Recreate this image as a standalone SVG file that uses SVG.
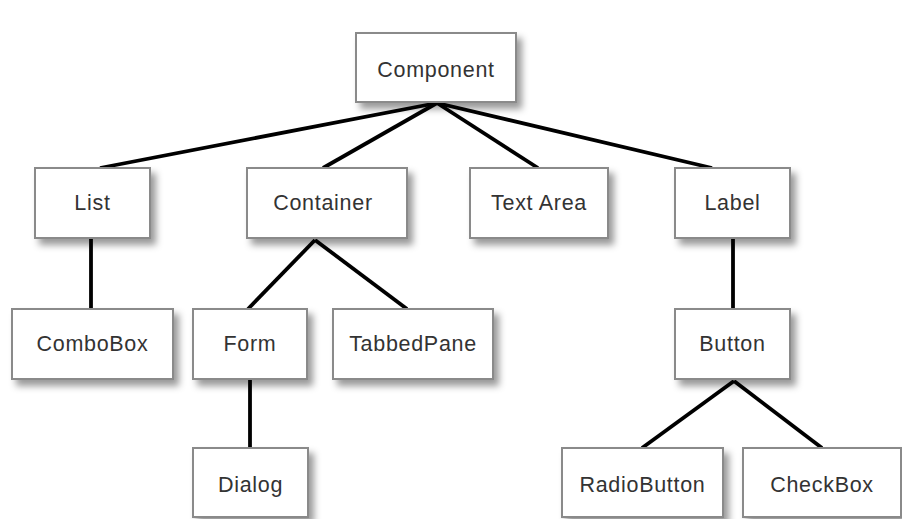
<svg xmlns="http://www.w3.org/2000/svg" width="902" height="519" viewBox="0 0 902 519">
<defs>
<filter id="sh" x="-10%" y="-10%" width="130%" height="140%">
<feDropShadow dx="5" dy="6" stdDeviation="3.5" flood-color="#000" flood-opacity="0.4"/>
</filter>
</defs>
<style>
.b rect{fill:#fff;stroke:#8a8a8a;stroke-width:2;filter:url(#sh)}
.b text{font-family:"Liberation Sans",Arial,sans-serif;font-size:21.5px;letter-spacing:0.7px;fill:#333;text-anchor:middle}
#edges line{stroke:#000;stroke-width:3.8;stroke-linecap:butt}
</style>
<rect width="902" height="519" fill="#fff"/>
<g id="edges">
<line x1="437" y1="103" x2="100" y2="168"/>
<line x1="437" y1="103" x2="323" y2="168"/>
<line x1="437" y1="103" x2="538" y2="168"/>
<line x1="437" y1="103" x2="712" y2="168"/>
<line x1="91" y1="238" x2="91" y2="309"/>
<line x1="315" y1="240" x2="248" y2="309"/>
<line x1="315" y1="240" x2="407" y2="309"/>
<line x1="250" y1="379" x2="250" y2="448"/>
<line x1="733" y1="238" x2="733" y2="309"/>
<line x1="734" y1="381" x2="642" y2="448"/>
<line x1="734" y1="381" x2="822" y2="448"/>
</g>
<g id="component" class="b"><rect x="356" y="33" width="160" height="69"/><text x="436" y="77">Component</text></g>
<g id="list" class="b"><rect x="35" y="168" width="115" height="70"/><text x="92.5" y="210">List</text></g>
<g id="container" class="b"><rect x="247" y="168" width="160" height="70"/><text x="323" y="210">Container</text></g>
<g id="textarea" class="b"><rect x="470" y="168" width="138" height="70"/><text x="539" y="210">Text Area</text></g>
<g id="label" class="b"><rect x="675" y="168" width="115" height="70"/><text x="732.5" y="210">Label</text></g>
<g id="combobox" class="b"><rect x="12" y="309" width="161" height="70"/><text x="92.5" y="351">ComboBox</text></g>
<g id="form" class="b"><rect x="193" y="309" width="114" height="70"/><text x="250" y="351">Form</text></g>
<g id="tabbedpane" class="b"><rect x="333" y="309" width="160" height="70"/><text x="413" y="351">TabbedPane</text></g>
<g id="button" class="b"><rect x="675" y="309" width="115" height="70"/><text x="732.5" y="351">Button</text></g>
<g id="dialog" class="b"><rect x="193" y="448" width="115" height="69"/><text x="250.5" y="492">Dialog</text></g>
<g id="radiobutton" class="b"><rect x="562" y="448" width="161" height="69"/><text x="642.5" y="492">RadioButton</text></g>
<g id="checkbox" class="b"><rect x="743" y="448" width="158" height="69"/><text x="822" y="492">CheckBox</text></g>
</svg>
